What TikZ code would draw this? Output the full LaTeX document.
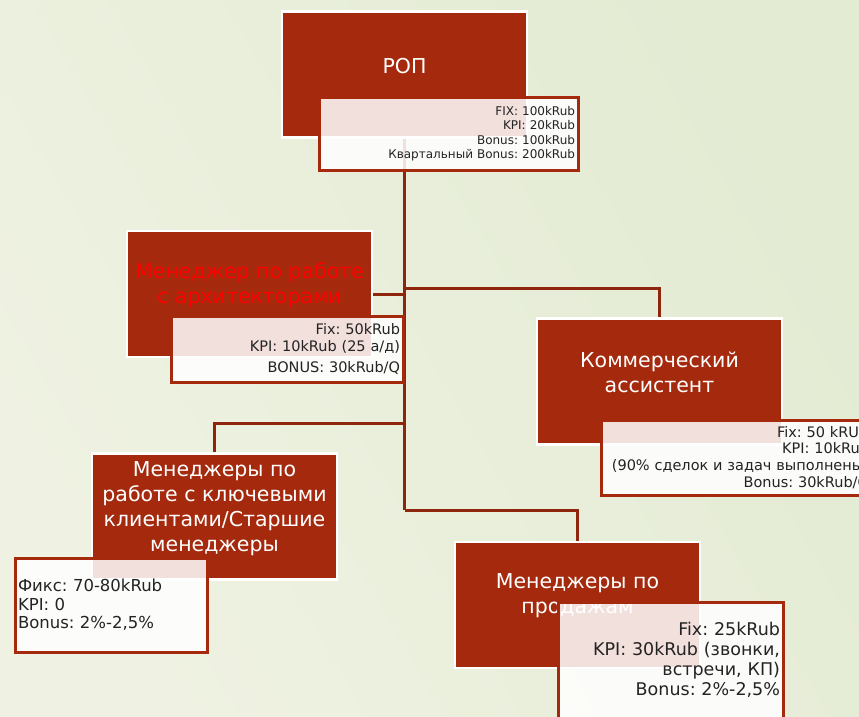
\documentclass[tikz,border=0pt]{standalone}
\usepackage{fontspec}
\setmainfont{DejaVu Sans}
\frenchspacing
\usetikzlibrary{backgrounds}
\definecolor{boxred}{RGB}{165,42,13}
\definecolor{linered}{RGB}{142,38,14}
\definecolor{bgA}{RGB}{239,242,226}
\definecolor{bgB}{RGB}{227,235,211}
\definecolor{txtgray}{RGB}{35,35,35}
\begin{document}
\begin{tikzpicture}[x=1pt,y=-1pt,
  darkbox/.style={draw=white, line width=2.5pt, fill=boxred, minimum width=245pt, minimum height=126pt, inner sep=0pt},
  titletxt/.style={text=white, font=\fontsize{20.5}{25}\selectfont, align=center, inner sep=0pt},
  infobox/.style={draw=boxred, line width=3pt, fill=white, fill opacity=0.86, text opacity=1, text=txtgray, inner sep=3pt},
  conn/.style={draw=linered, line width=3pt}]
\useasboundingbox (0,0) rectangle (859,716);
\clip (0,0) rectangle (859,716);

% boxes
\node[darkbox] (rop) at (404.5,74.5) {};
\node[darkbox] (arch) at (249.5,294) {};
\node[darkbox] (asst) at (659.5,381.5) {};
\node[darkbox] (key) at (214.5,516.5) {};
\node[darkbox] (sales) at (577.5,605) {};

% junctions
\coordinate (ja) at (404.5,288);
\coordinate (jk) at (404.5,423);
\coordinate (js) at (404.5,510);

\begin{pgfonlayer}{background}
\shade[left color=bgA, right color=bgB, shading angle=120] (0,0) rectangle (859,716);
\draw[conn] (rop.south) -- (js);
\draw[conn] (ja) -| (asst.north);
\draw[conn] (arch.east) -- (arch.east -| rop.south);
\draw[conn] (jk) -| (key.north);
\draw[conn] (js) -| (sales.north);
\end{pgfonlayer}

% titles
\node[titletxt] (ropT) at ([yshift=8pt]rop.center) {РОП};
\node[titletxt, text=red] (archT) at ([yshift=9pt]arch.center) {Менеджер по работе\\с архитекторами};
\node[titletxt] (asstT) at ([yshift=9pt]asst.center) {Коммерческий\\ассистент};
\node[titletxt] (keyT) at ([yshift=8pt]key.center) {Менеджеры по\\работе с ключевыми\\клиентами/Старшие\\менеджеры};
\node[titletxt] (salesT) at ([yshift=9pt]sales.center) {Менеджеры по\\продажам};

% info boxes
\node[infobox, minimum width=259pt, minimum height=73pt, text width=253pt, align=right,
  font=\fontsize{12}{14.5}\selectfont] (ropI) at (448.5,133.5)
  {FIX: 100kRub\\KPI: 20kRub\\Bonus: 100kRub\\Квартальный Bonus: 200kRub};
\node[infobox, minimum width=232pt, minimum height=66pt, text width=226pt, align=right,
  font=\fontsize{14.5}{17}\selectfont] (archI) at (287,349)
  {Fix: 50kRub\\KPI: 10kRub (25 а/д)\\[4pt]BONUS: 30kRub/Q};
\node[infobox, minimum width=271pt, minimum height=75pt, text width=265pt, align=right,
  font=\fontsize{14.5}{16.7}\selectfont] (asstI) at (736.5,457.5)
  {Fix: 50 kRUB\\KPI: 10kRub\\(90\% сделок и задач выполнены)\\Bonus: 30kRub/Q};
\node[infobox, minimum width=192pt, minimum height=94pt, text width=186pt, align=left,
  font=\fontsize{16.5}{18.5}\selectfont] (keyI) at (111,605)
  {Фикс: 70-80kRub\\KPI: 0\\Bonus: 2\%-2,5\%};
\node[infobox, minimum width=225pt, minimum height=116pt, text width=219pt, align=right,
  font=\fontsize{17.5}{20}\selectfont] (salesI) at (670.5,660)
  {Fix: 25kRub\\KPI: 30kRub (звонки,\\встречи, КП)\\Bonus: 2\%-2,5\%};
\end{tikzpicture}
\end{document}
